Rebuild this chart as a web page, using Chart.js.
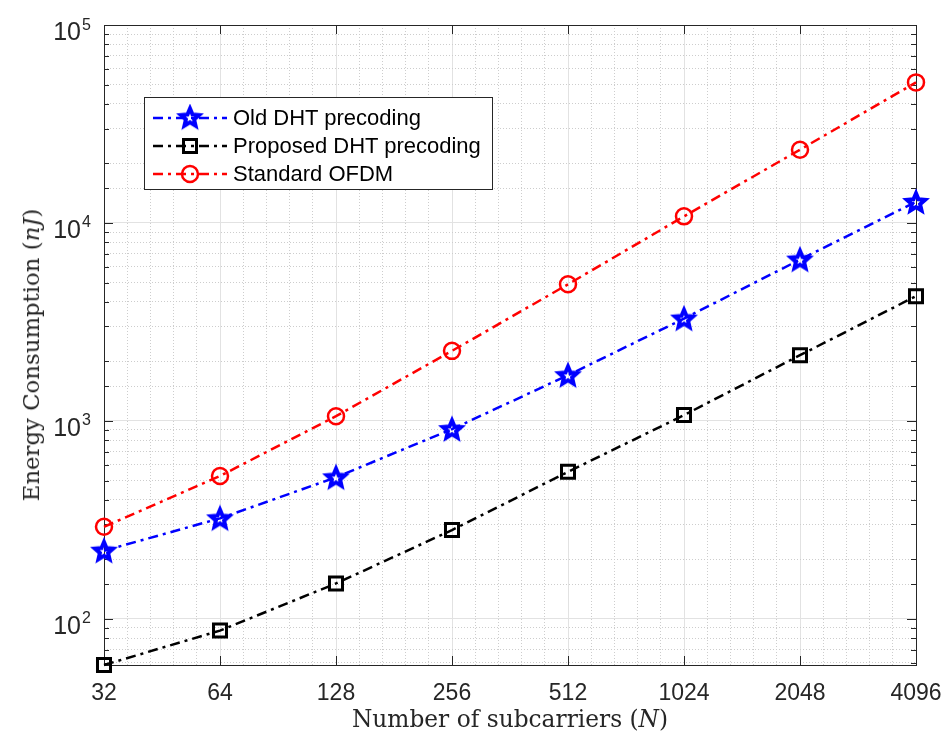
<!DOCTYPE html>
<html>
<head>
<meta charset="utf-8">
<script src="https://cdn.jsdelivr.net/npm/chart.js@4.4.1/dist/chart.umd.min.js"></script>
<style>
  body { margin: 0; background: #fff; }
  #caja { position: relative; width: 950px; height: 737px; }
  #grafico { position: absolute; left: 0; top: 0; }
  .tituloEje { position: absolute; font-family: 'DejaVu Serif', 'Liberation Serif', serif; color: #262626; white-space: nowrap; }
  #tituloX { left: 510px; top: 718px; font-size: 23.3px; transform: translate(-50%, -50%); }
  #tituloY { left: 31px; top: 355px; font-size: 22.8px; transform: translate(-50%, -50%) rotate(-90deg); }
  #leyenda { position: absolute; left: 144px; top: 97px; width: 349px; height: 93px; border: 1px solid #262626; background: #fff; box-sizing: border-box; }
  .fila { position: absolute; left: 0; height: 28px; display: flex; align-items: center; }
  .fila canvas { margin-left: 6px; }
  .fila span { font-family: 'Liberation Sans', Arial, sans-serif; font-size: 22px; color: #000; margin-left: 4px; }
</style>
</head>
<body>
<div id="caja">
  <canvas id="grafico" width="950" height="737"></canvas>
  <div id="leyenda"></div>
  <div class="tituloEje" id="tituloX">Number of subcarriers (<i>N</i>)</div>
  <div class="tituloEje" id="tituloY">Energy Consumption (<i>nJ</i>)</div>
</div>
<script>
// datos
const subportadoras = [32, 64, 128, 256, 512, 1024, 2048, 4096]
const dhtViejo = [221, 322, 519, 909, 1702, 3289, 6530, 12770]
const dhtPropuesto = [58.5, 87.3, 151, 281, 553, 1070, 2148, 4270]
const ofdmEstandar = [292, 527, 1057, 2259, 4900, 10800, 23450, 51300]

const guion = [10, 5, 3, 5]

function esPotencia(v) {
    let e = Math.log10(v)
    return Math.abs(e - Math.round(e)) < 1e-9
}

function hacerEstrella(color) {
    let c = document.createElement('canvas')
    c.width = 28
    c.height = 28
    let g = c.getContext('2d')
    g.beginPath()
    for (let i = 0; i < 10; i++) {
        let r = i % 2 === 0 ? 9.5 : 4.3
        let a = -Math.PI / 2 + i * Math.PI / 5
        let px = 14 + r * Math.cos(a)
        let py = 14.8 + r * Math.sin(a)
        if (i === 0) g.moveTo(px, py)
        else g.lineTo(px, py)
    }
    g.closePath()
    g.strokeStyle = color
    g.lineWidth = 4
    g.lineJoin = 'miter'
    g.stroke()
    return c
}

const estrella = hacerEstrella('#0000ff')

function puntos(valores) {
    return subportadoras.map((n, i) => ({ x: Math.log2(n), y: valores[i] }))
}

const series = [
    { label: 'Old DHT precoding', data: puntos(dhtViejo), color: '#0000ff', estilo: estrella, radio: 10, grosor: 2.5 },
    { label: 'Proposed DHT precoding', data: puntos(dhtPropuesto), color: '#000000', estilo: 'rect', radio: 9.2, grosor: 3 },
    { label: 'Standard OFDM', data: puntos(ofdmEstandar), color: '#ff0000', estilo: 'circle', radio: 8, grosor: 2.5 }
]

const cajaEjes = {
    id: 'cajaEjes',
    beforeDatasetsDraw(chart) {
        const { ctx, chartArea: a, scales } = chart
        ctx.save()
        ctx.strokeStyle = '#262626'
        ctx.lineWidth = 1
        ctx.beginPath()
        scales.y.ticks.forEach(t => {
            let py = Math.round(scales.y.getPixelForValue(t.value)) + 0.5
            let largo = esPotencia(t.value) ? 9 : 5
            ctx.moveTo(a.left, py); ctx.lineTo(a.left + largo, py)
            ctx.moveTo(a.right, py); ctx.lineTo(a.right - largo, py)
        })
        scales.x.ticks.forEach(t => {
            let px = Math.round(scales.x.getPixelForValue(t.value)) + 0.5
            ctx.moveTo(px, a.bottom); ctx.lineTo(px, a.bottom - 9)
            ctx.moveTo(px, a.top); ctx.lineTo(px, a.top + 9)
        })
        ctx.stroke()
        ctx.strokeRect(Math.round(a.left) + 0.5, Math.round(a.top) + 0.5, Math.round(a.width), Math.round(a.height))
        ctx.restore()
    },
    // etiquetas 10^n con exponente elevado
    afterDraw(chart) {
        const { ctx, chartArea: a, scales } = chart
        ctx.save()
        ctx.fillStyle = '#262626'
        ctx.textBaseline = 'alphabetic'
        scales.y.ticks.forEach(t => {
            if (!esPotencia(t.value)) return
            let py = scales.y.getPixelForValue(t.value)
            let xBase = a.left - 23
            ctx.font = "25px 'Liberation Sans', Arial, sans-serif"
            ctx.textAlign = 'right'
            ctx.fillText('10', xBase, py + 15)
            ctx.font = "16px 'Liberation Sans', Arial, sans-serif"
            ctx.textAlign = 'left'
            ctx.fillText(String(Math.round(Math.log10(t.value))), xBase + 1, py + 4.5)
        })
        ctx.restore()
    }
}

Chart.defaults.font.family = "'Liberation Sans', Arial, sans-serif"
Chart.defaults.color = '#262626'

const grafico = new Chart(document.querySelector('#grafico'), {
    type: 'line',
    data: {
        datasets: series.map(s => ({
            label: s.label,
            data: s.data,
            borderColor: s.color,
            backgroundColor: 'transparent',
            borderWidth: 2.5,
            borderDash: guion,
            pointStyle: s.estilo,
            pointRadius: s.radio,
            pointBorderWidth: s.grosor,
            pointBorderColor: s.color,
            pointBackgroundColor: 'transparent',
            tension: 0,
            clip: false
        }))
    },
    plugins: [cajaEjes],
    options: {
        responsive: false,
        animation: false,
        devicePixelRatio: 1,
        layout: { padding: { top: 25, right: 34, left: 0, bottom: 0 } },
        plugins: { legend: { display: false }, tooltip: { enabled: false } },
        scales: {
            x: {
                type: 'linear', min: 5, max: 12,
                afterFit(scale) {
                    scale.height = 72
                    scale.paddingLeft = 0
                    scale.paddingRight = 0
                },
                ticks: { stepSize: 1, padding: 15, maxRotation: 0, font: { size: 23 }, callback: v => String(Math.pow(2, v)) },
                grid: { color: '#e2e2e2', drawTicks: false },
                border: { display: false }
            },
            xMenor: {
                type: 'linear', min: 5, max: 12, position: 'bottom',
                afterFit(scale) {
                    scale.height = 0
                    scale.paddingLeft = 0
                    scale.paddingRight = 0
                },
                ticks: { display: false, stepSize: 0.2 },
                grid: {
                    drawTicks: false,
                    color: ctx => Math.abs(ctx.tick.value - Math.round(ctx.tick.value)) < 1e-6 ? 'transparent' : '#cdcdcd'
                },
                border: { display: false, dash: [1, 2] }
            },
            y: {
                type: 'logarithmic', min: 58.5, max: 100000,
                afterFit(scale) { scale.width = 104 },
                ticks: { autoSkip: false, display: false },
                grid: { drawTicks: false, color: ctx => esPotencia(ctx.tick.value) ? '#e2e2e2' : 'transparent' },
                border: { display: false }
            },
            yMenor: {
                type: 'logarithmic', min: 58.5, max: 100000, position: 'left',
                afterFit(scale) { scale.width = 0 },
                ticks: { display: false, autoSkip: false },
                grid: { drawTicks: false, color: ctx => esPotencia(ctx.tick.value) ? 'transparent' : '#cdcdcd' },
                border: { display: false, dash: [1, 2] }
            }
        }
    }
})

// leyenda dentro del area de ejes
const leyenda = document.querySelector('#leyenda')
series.forEach((s, i) => {
    let fila = document.createElement('div')
    fila.className = 'fila'
    fila.style.top = (6 + i * 28) + 'px'
    let muestra = document.createElement('canvas')
    muestra.width = 78
    muestra.height = 28
    let g = muestra.getContext('2d')
    g.strokeStyle = s.color
    g.lineWidth = 2.5
    g.setLineDash(guion)
    g.beginPath()
    g.moveTo(2, 14)
    g.lineTo(76, 14)
    g.stroke()
    g.setLineDash([])
    if (s.estilo === 'rect') {
        g.lineWidth = 3
        g.strokeRect(39 - 6.5, 14 - 6.5, 13, 13)
    } else if (s.estilo === 'circle') {
        g.beginPath()
        g.arc(39, 14, 8, 0, Math.PI * 2)
        g.stroke()
    } else {
        g.drawImage(s.estilo, 39 - 14, 14 - 14.8)
    }
    let texto = document.createElement('span')
    texto.textContent = s.label
    fila.appendChild(muestra)
    fila.appendChild(texto)
    leyenda.appendChild(fila)
})
</script>
</body>
</html>
